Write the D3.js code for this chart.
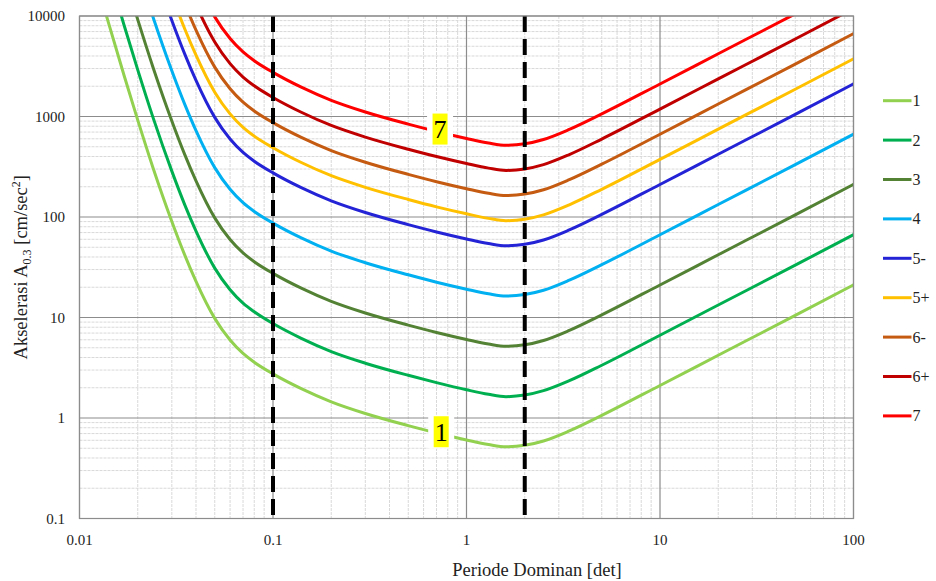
<!DOCTYPE html>
<html lang="id">
<head>
  <meta charset="UTF-8" />
  <title>Akselerasi vs Periode Dominan</title>
  <script src="https://d3js.org/d3.v7.min.js"></script>
  <style>
    body { margin: 0; background: #fff; }
    svg { display: block; }
    svg text { font-family: "Liberation Serif", "Times New Roman", serif; fill: #222; }
    .tick-label { font-size: 15px; }
    .axis-title { font-size: 18.5px; }
    .legend text { font-size: 16px; }
  </style>
</head>
<body>
  <div id="chart"></div>

  <script>
    // periode dominan [det]
    const periods = [0.012, 0.014, 0.017, 0.02, 0.024, 0.03, 0.035, 0.04, 0.05, 0.06, 0.07, 0.08,
      0.1, 0.14, 0.2, 0.3, 0.5, 0.7, 1, 1.3, 1.6, 2, 2.5, 3.4, 5, 10, 20, 50, 100];

    // akselerasi A0.3 [cm/sec2] per kelas
    const s1  = [25000, 9050, 2560, 920, 308, 90.4, 41.8, 22.9, 9.8, 5.97, 4.39, 3.59, 2.75, 1.96, 1.45, 1.11, 0.84, 0.71, 0.605, 0.545, 0.517, 0.535, 0.591, 0.744, 1.061, 2.107, 4.21, 10.5, 21.1];
    const s2  = [79000, 28620, 8095, 2909, 974, 286, 132.2, 72.4, 31.0, 18.9, 13.9, 11.4, 8.7, 6.2, 4.58, 3.51, 2.66, 2.25, 1.91, 1.72, 1.63, 1.69, 1.87, 2.35, 3.35, 6.66, 13.31, 33.2, 66.7];
    const s3  = [250000, 90500, 25600, 9200, 3080, 904, 418, 229, 98, 59.7, 43.9, 35.9, 27.5, 19.6, 14.5, 11.1, 8.4, 7.1, 6.05, 5.45, 5.17, 5.35, 5.91, 7.44, 10.61, 21.07, 42.1, 105, 211];
    const s4  = [790000, 286200, 80950, 29090, 9739, 2858, 1322, 724, 310, 188.8, 138.8, 113.5, 87.0, 62.0, 45.8, 35.1, 26.6, 22.45, 19.13, 17.23, 16.35, 16.92, 18.69, 23.53, 33.55, 66.62, 133.1, 332, 667];
    const s5m = [2500000, 905000, 256000, 92000, 30800, 9040, 4180, 2290, 980, 597, 439, 359, 275, 196, 145, 111, 84, 71, 60.5, 54.5, 51.7, 53.5, 59.1, 74.4, 106.1, 210.7, 421, 1050, 2110];
    const s5p = [4445000, 1609000, 455200, 163600, 54760, 16070, 7432, 4072, 1742, 1061, 780.5, 638.3, 489, 348.5, 257.8, 197.4, 149.4, 126.2, 107.6, 96.9, 91.9, 95.1, 105.1, 132.3, 188.6, 374.6, 748.5, 1867, 3752];
    const s6m = [7905000, 2862000, 809500, 290900, 97390, 28580, 13220, 7241, 3099, 1888, 1388, 1135, 869.6, 619.8, 458.5, 351, 265.6, 224.5, 191.3, 172.3, 163.5, 169.2, 186.9, 235.3, 335.5, 666.2, 1331, 3320, 6672];
    const s6p = [14060000, 5089000, 1439000, 517300, 173200, 50830, 23500, 12880, 5511, 3357, 2468, 2019, 1546, 1102, 815.3, 624.2, 472.3, 399.2, 340.2, 306.5, 290.7, 300.8, 332.3, 418.4, 596.6, 1185, 2367, 5904, 11860];
    const s7  = [25000000, 9050000, 2560000, 920000, 308000, 90400, 41800, 22900, 9800, 5970, 4390, 3590, 2750, 1960, 1450, 1110, 840, 710, 605, 545, 517, 535, 591, 744, 1061, 2107, 4210, 10500, 21100];

    const seriesNames = ["1", "2", "3", "4", "5-", "5+", "6-", "6+", "7"];
    const seriesValues = [s1, s2, s3, s4, s5m, s5p, s6m, s6p, s7];
    const seriesColors = ["#92d050", "#00b050", "#548235", "#00b0f0", "#2424d6", "#ffc000", "#c55a11", "#c00000", "#ff0000"];

    const xTicks = [0.01, 0.1, 1, 10, 100];
    const xTickLabels = ["0.01", "0.1", "1", "10", "100"];
    const yTicks = [0.1, 1, 10, 100, 1000, 10000];
    const yTickLabels = ["0.1", "1", "10", "100", "1000", "10000"];

    // batas periode (garis putus-putus)
    const markerPeriods = [0.1, 2];

    // label kuning pada kurva
    const curveLabels = ["7", "1"];
    const curveLabelT = [0.73, 0.74];
    const curveLabelA = [750, 0.73];

    const width = 936, height = 581;
    const plot = { left: 79.5, right: 853.5, top: 16, bottom: 518.5 };

    const svg = d3.select("#chart").append("svg")
      .attr("width", width)
      .attr("height", height);

    svg.append("rect").attr("width", width).attr("height", height).attr("fill", "#fff");

    const x = d3.scaleLog().domain([0.01, 100]).range([plot.left, plot.right]);
    const y = d3.scaleLog().domain([0.1, 10000]).range([plot.bottom, plot.top]);

    svg.append("defs").append("clipPath").attr("id", "plotClip")
      .append("rect")
      .attr("x", plot.left).attr("y", plot.top)
      .attr("width", plot.right - plot.left).attr("height", plot.bottom - plot.top);

    // minor grid
    const minorX = [], minorY = [];
    for (let e = -2; e < 2; e++) for (let m = 2; m < 10; m++) minorX.push(m * Math.pow(10, e));
    for (let e = -1; e < 4; e++) for (let m = 2; m < 10; m++) minorY.push(m * Math.pow(10, e));

    const grid = svg.append("g");
    grid.selectAll(".minor-x").data(minorX).enter().append("line")
      .attr("x1", d => x(d)).attr("x2", d => x(d))
      .attr("y1", plot.top).attr("y2", plot.bottom)
      .attr("stroke", "#d9d9d9").attr("stroke-width", 1).attr("stroke-dasharray", "3,1");
    grid.selectAll(".minor-y").data(minorY).enter().append("line")
      .attr("x1", plot.left).attr("x2", plot.right)
      .attr("y1", d => y(d)).attr("y2", d => y(d))
      .attr("stroke", "#d9d9d9").attr("stroke-width", 1).attr("stroke-dasharray", "3,1");

    // major grid
    grid.selectAll(".major-x").data(xTicks).enter().append("line")
      .attr("x1", d => x(d)).attr("x2", d => x(d))
      .attr("y1", plot.top).attr("y2", plot.bottom)
      .attr("stroke", "#8c8c8c").attr("stroke-width", 1.2);
    grid.selectAll(".major-y").data(yTicks).enter().append("line")
      .attr("x1", plot.left).attr("x2", plot.right)
      .attr("y1", d => y(d)).attr("y2", d => y(d))
      .attr("stroke", "#8c8c8c").attr("stroke-width", 1.2);

    // curves
    const line = d3.line()
      .x(d => x(d[0]))
      .y(d => y(d[1]))
      .curve(d3.curveMonotoneX);

    const curves = svg.append("g").attr("clip-path", "url(#plotClip)");
    seriesValues.forEach((vals, i) => {
      curves.append("path")
        .datum(periods.map((t, j) => [t, vals[j]]))
        .attr("d", line)
        .attr("fill", "none")
        .attr("stroke", seriesColors[i])
        .attr("stroke-width", 3)
        .attr("stroke-linejoin", "round");
    });

    // dashed period limits
    svg.append("g").selectAll("line").data(markerPeriods).enter().append("line")
      .attr("x1", d => x(d)).attr("x2", d => x(d))
      .attr("y1", plot.top).attr("y2", plot.bottom)
      .attr("stroke", "#000").attr("stroke-width", 4)
      .attr("stroke-dasharray", "16,7");

    // curve labels
    const lbl = svg.append("g");
    curveLabels.forEach((txt, i) => {
      const cx = x(curveLabelT[i]), cy = y(curveLabelA[i]);
      lbl.append("rect").attr("x", cx - 13).attr("y", cy - 17).attr("width", 26).attr("height", 34).attr("fill", "#fff");
      lbl.append("rect").attr("x", cx - 7.5).attr("y", cy - 15.5).attr("width", 15).attr("height", 31).attr("fill", "#ffff00");
      lbl.append("text")
        .attr("x", cx).attr("y", cy + 9)
        .attr("text-anchor", "middle")
        .style("font-size", "26px")
        .style("fill", "#000")
        .text(txt);
    });

    // plot frame
    svg.append("rect")
      .attr("x", plot.left).attr("y", plot.top)
      .attr("width", plot.right - plot.left).attr("height", plot.bottom - plot.top)
      .attr("fill", "none").attr("stroke", "#8c8c8c").attr("stroke-width", 1.2);

    // tick labels
    svg.append("g").selectAll("text").data(xTicks).enter().append("text")
      .attr("class", "tick-label")
      .attr("x", d => x(d)).attr("y", 545)
      .attr("text-anchor", "middle")
      .text((d, i) => xTickLabels[i]);

    svg.append("g").selectAll("text").data(yTicks).enter().append("text")
      .attr("class", "tick-label")
      .attr("x", 65).attr("y", d => y(d) + 5)
      .attr("text-anchor", "end")
      .text((d, i) => yTickLabels[i]);

    // axis titles
    svg.append("text")
      .attr("class", "axis-title")
      .attr("x", 537).attr("y", 576)
      .attr("text-anchor", "middle")
      .text("Periode Dominan [det]");

    const yTitle = svg.append("text")
      .attr("class", "axis-title")
      .attr("transform", `translate(27,${(plot.top + plot.bottom) / 2}) rotate(-90)`)
      .attr("text-anchor", "middle");
    yTitle.append("tspan").text("Akselerasi A");
    yTitle.append("tspan").attr("dy", 4).style("font-size", "12px").text("0.3");
    yTitle.append("tspan").attr("dy", -4).text("  [cm/sec");
    yTitle.append("tspan").attr("dy", -7).style("font-size", "12px").text("2");
    yTitle.append("tspan").attr("dy", 7).text("]");

    // legend
    const legend = svg.append("g").attr("class", "legend");
    seriesNames.forEach((name, i) => {
      const ly = 100.7 + i * 39.4;
      legend.append("line")
        .attr("x1", 883).attr("x2", 911.5)
        .attr("y1", ly).attr("y2", ly)
        .attr("stroke", seriesColors[i]).attr("stroke-width", 3);
      legend.append("text")
        .attr("x", 912.5).attr("y", ly + 5.5)
        .text(name);
    });
  </script>
</body>
</html>
